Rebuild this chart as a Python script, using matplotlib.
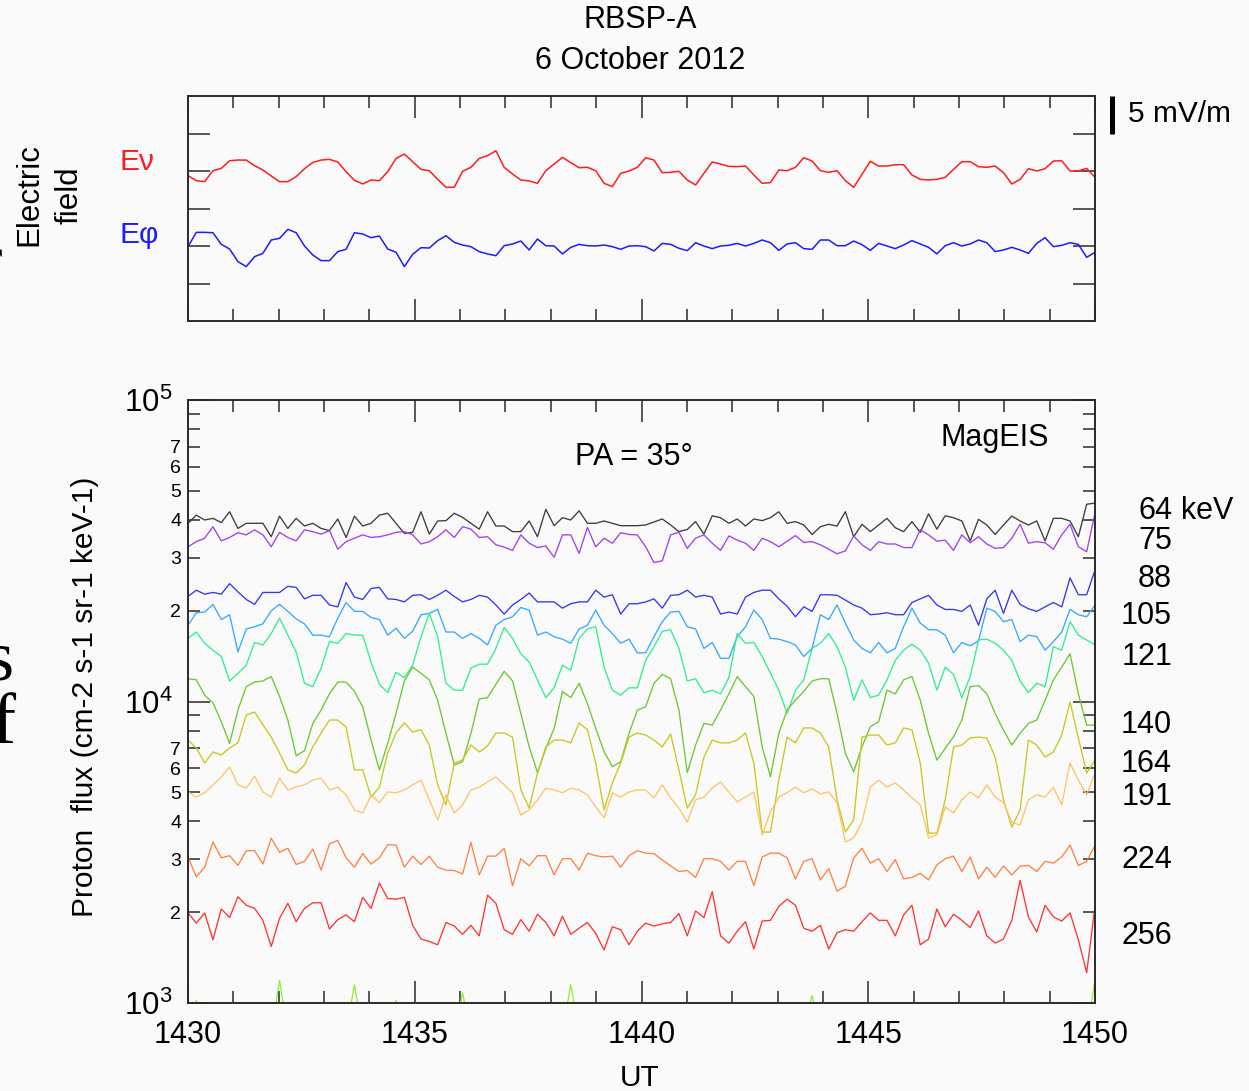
import numpy as np
import matplotlib.pyplot as plt
from matplotlib.ticker import MultipleLocator, LogLocator, FuncFormatter, FixedLocator

plt.rcParams['font.family'] = ['Liberation Sans', 'DejaVu Sans']
plt.rcParams['mathtext.fontset'] = 'custom'
plt.rcParams['mathtext.rm'] = 'Liberation Sans'
plt.rcParams['mathtext.it'] = 'Liberation Sans:italic'
plt.rcParams['mathtext.bf'] = 'Liberation Sans:bold'

W, H = 1249, 1091
BG = '#fafafa'

# electric field components (mV/m, deviation from each trace's baseline)
e_nu = [-0.62, -1.29, -1.42, 0.04, 0.35, 1.37, 1.46, 1.46, 0.71, 0.13,
        -0.66, -1.42, -1.42, -0.75, 0.31, 1.15, 1.46, 1.55, 1.20, -0.09,
        -1.24, -1.73, -1.20, -1.29, -0.09, 1.68, 2.26, 1.24, 0.22, 0.04,
        -1.11, -2.17, -2.17, -0.04, 0.49, 1.68, 2.04, 2.70, 0.49, -0.40,
        -1.20, -1.33, -1.64, 0.04, 0.93, 1.82, 1.11, 0.44, 0.49, 0.04,
        -1.64, -2.08, -0.31, 0.00, 0.49, 1.77, 1.46, -0.22, -0.18, -0.04,
        -1.20, -1.86, -0.31, 1.20, 0.93, 0.62, 0.58, 0.66, -0.53, -1.64,
        -1.55, 0.13, 0.04, 0.49, 1.77, 1.33, 0.04, -0.18, 0.04, -1.29,
        -2.17, -0.44, 1.29, 0.66, 0.66, 0.84, 0.84, -0.53, -1.11, -1.20,
        -1.11, -0.84, 0.22, 1.24, 1.24, 0.58, 0.49, 0.66, -0.22, -1.73,
        -1.11, 0.31, 0.00, 0.31, 1.33, 1.37, 0.00, 0.00, 0.35, -0.84]
e_phi = [-0.09, 1.82, 1.82, 1.77, 0.22, -0.40, -2.08, -2.75, -1.42, -0.98,
         0.80, 1.02, 2.22, 1.77, 0.00, -1.20, -1.95, -1.95, -0.75, -0.44,
         1.77, 1.60, 1.11, 1.33, -0.40, -0.84, -2.75, -1.11, -0.22, -0.27,
         0.71, 1.37, 0.49, 0.13, -0.09, -0.75, -1.06, -1.29, 0.04, 0.27,
         0.66, -0.53, 0.93, 0.04, 0.00, -1.06, -0.18, 0.22, 0.04, 0.00,
         0.13, -0.09, -0.44, 0.00, 0.04, -0.09, -0.66, 0.35, 0.22, -0.31,
         -0.62, 0.44, 0.00, -0.35, 0.00, 0.09, 0.35, 0.00, 0.35, 0.80,
         0.44, -0.58, 0.27, 0.44, -0.35, -0.44, 0.80, 0.80, 0.04, 0.04,
         0.66, 0.18, -0.58, 0.35, 0.00, -0.35, 0.13, 0.71, 0.27, -0.18,
         -1.06, 0.04, 0.44, 0.00, 0.27, 0.80, 0.44, -0.75, -0.53, -0.18,
         -0.53, -0.98, 0.35, 1.11, -0.09, 0.09, 0.44, 0.22, -1.51, -0.84]

# proton flux per energy channel, units of 1e3 cm-2 s-1 sr-1 keV-1
flux_64 = [39.0, 41.5, 40.0, 40.5, 39.2, 42.6, 37.5, 39.0, 39.0, 39.0,
           35.2, 41.2, 37.5, 40.5, 38.2, 39.0, 37.5, 36.9, 40.3, 35.0,
           41.2, 38.2, 39.0, 41.5, 42.1, 39.0, 36.1, 36.4, 42.6, 35.9,
           39.7, 39.8, 42.1, 40.8, 39.0, 37.3, 42.6, 38.2, 38.2, 36.6,
           36.6, 39.7, 35.2, 43.4, 38.3, 40.7, 40.0, 42.9, 39.0, 39.0,
           39.7, 39.0, 38.3, 38.3, 38.3, 38.5, 39.4, 40.3, 38.5, 36.6,
           37.2, 39.5, 35.9, 41.3, 40.7, 39.0, 40.3, 38.2, 40.3, 39.8,
           40.7, 42.6, 39.0, 39.5, 38.5, 35.8, 38.0, 38.7, 38.2, 42.6,
           35.2, 38.7, 36.6, 38.5, 40.5, 37.7, 36.6, 39.5, 36.4, 41.9,
           37.3, 41.3, 40.7, 39.7, 34.1, 40.2, 38.5, 35.8, 38.5, 41.2,
           39.7, 38.5, 39.7, 34.1, 40.5, 40.5, 39.7, 35.2, 45.1, 45.5]
flux_75 = [32.6, 33.9, 34.8, 38.0, 34.1, 35.0, 36.3, 35.7, 37.1, 35.7,
           32.6, 36.4, 35.0, 34.1, 37.1, 36.6, 35.9, 36.9, 32.0, 33.9,
           34.8, 35.7, 35.0, 35.2, 35.7, 36.4, 36.6, 35.7, 33.3, 33.9,
           35.2, 37.1, 35.0, 38.0, 37.3, 35.0, 35.2, 33.1, 32.5, 31.7,
           35.7, 33.5, 32.4, 32.8, 30.1, 35.7, 35.7, 31.0, 37.8, 32.6,
           34.8, 33.5, 36.3, 35.8, 35.7, 32.6, 28.9, 29.3, 35.7, 36.4,
           32.2, 34.8, 35.7, 33.5, 31.7, 35.4, 34.3, 33.5, 31.7, 34.8,
           33.9, 32.6, 34.0, 35.5, 33.7, 33.9, 33.1, 32.0, 30.9, 31.6,
           35.4, 33.1, 31.7, 33.9, 33.3, 33.3, 32.4, 32.4, 37.1, 35.7,
           34.0, 34.3, 31.7, 35.7, 33.6, 35.2, 33.3, 32.2, 32.4, 34.8,
           38.7, 33.5, 33.9, 33.6, 32.0, 35.7, 38.7, 32.6, 31.4, 42.1]
flux_88 = [22.3, 23.4, 22.7, 23.0, 22.7, 24.6, 23.1, 21.8, 21.0, 23.0,
           23.0, 23.0, 24.1, 23.9, 21.9, 22.5, 22.5, 20.9, 20.6, 24.8,
           22.2, 21.8, 23.7, 23.9, 21.9, 21.8, 21.4, 22.5, 22.6, 21.8,
           22.5, 23.4, 22.3, 21.4, 21.8, 22.5, 22.2, 20.9, 19.5, 20.9,
           21.8, 22.9, 21.4, 21.4, 21.4, 20.4, 21.1, 21.4, 21.4, 23.4,
           22.2, 22.6, 19.5, 21.1, 21.1, 21.4, 21.9, 20.4, 22.5, 22.6,
           23.4, 22.2, 22.5, 22.2, 19.5, 19.8, 19.5, 22.2, 23.0, 23.4,
           23.4, 21.9, 20.7, 19.1, 20.6, 19.9, 22.6, 22.6, 22.5, 21.7,
           20.9, 20.4, 19.4, 19.5, 19.7, 19.4, 19.4, 21.3, 21.9, 22.5,
           20.9, 20.2, 20.2, 19.9, 20.9, 17.9, 21.9, 23.4, 19.6, 23.4,
           21.0, 20.3, 19.9, 20.6, 21.3, 20.6, 25.7, 22.6, 22.6, 27.3]
flux_105 = [17.9, 19.7, 19.8, 21.0, 18.7, 19.4, 14.6, 17.4, 17.7, 18.1,
            20.0, 21.0, 19.9, 18.8, 18.1, 16.6, 16.6, 16.4, 18.9, 21.3,
            19.9, 19.9, 19.0, 18.7, 16.6, 17.5, 16.2, 17.1, 19.4, 19.6,
            20.2, 17.0, 17.0, 16.2, 16.8, 16.2, 15.4, 17.9, 18.7, 19.1,
            20.5, 20.1, 16.6, 17.0, 16.4, 16.1, 15.6, 17.4, 17.9, 20.1,
            17.9, 16.8, 15.6, 16.1, 14.5, 14.5, 16.4, 18.4, 19.8, 19.9,
            17.7, 17.4, 15.0, 15.7, 13.9, 13.9, 16.4, 17.7, 20.1, 18.7,
            16.2, 16.1, 15.8, 15.4, 14.1, 15.0, 19.4, 18.7, 20.9, 18.2,
            16.0, 15.0, 14.5, 15.7, 14.5, 15.0, 17.7, 20.4, 18.2, 17.3,
            17.3, 16.6, 14.5, 15.7, 15.3, 15.9, 20.4, 19.9, 18.4, 18.7,
            15.8, 16.6, 16.4, 14.8, 15.8, 17.0, 20.2, 19.4, 19.1, 20.9]
flux_121 = [16.2, 17.0, 15.6, 14.8, 14.1, 11.7, 12.4, 13.2, 15.7, 15.4,
            16.8, 18.9, 16.6, 14.6, 11.5, 11.2, 12.9, 15.8, 15.6, 16.8,
            16.6, 16.6, 13.5, 11.4, 10.7, 12.5, 12.0, 13.2, 16.4, 19.6,
            16.4, 11.5, 10.9, 10.9, 12.9, 13.3, 13.3, 15.0, 17.6, 16.2,
            14.4, 13.5, 11.8, 10.3, 11.1, 13.2, 12.7, 16.2, 17.4, 17.7,
            13.0, 10.9, 10.5, 11.1, 11.1, 13.7, 15.2, 17.1, 17.3, 15.0,
            11.7, 11.9, 10.7, 10.9, 10.6, 12.0, 16.8, 15.6, 15.7, 14.1,
            12.4, 10.9, 9.13, 10.9, 11.8, 15.0, 15.6, 16.8, 15.2, 13.0,
            10.1, 11.8, 10.3, 10.5, 11.8, 13.7, 14.8, 15.5, 14.8, 13.4,
            10.9, 13.0, 12.3, 10.3, 12.1, 16.0, 16.1, 15.6, 14.8, 13.7,
            11.7, 10.7, 11.5, 11.2, 15.2, 14.8, 18.4, 16.6, 16.0, 15.4]
flux_140 = [11.9, 11.8, 10.5, 9.9, 8.57, 7.26, 9.37, 11.2, 11.6, 11.7,
            12.1, 10.4, 8.68, 6.6, 6.87, 8.46, 9.37, 10.6, 11.6, 11.6,
            10.8, 9.6, 7.45, 5.93, 7.26, 9.13, 11.7, 13.0, 12.4, 11.8,
            10.1, 7.84, 6.16, 6.31, 7.84, 10.2, 10.3, 11.4, 12.6, 11.7,
            9.13, 7.08, 5.81, 6.99, 8.14, 10.8, 10.3, 11.5, 9.85, 8.14,
            6.82, 6.08, 6.31, 7.84, 9.37, 9.6, 11.5, 12.3, 11.9, 9.37,
            5.81, 7.17, 8.46, 8.35, 9.37, 10.6, 12.1, 11.2, 10.4, 7.08,
            5.63, 7.84, 9.37, 10.1, 10.8, 11.7, 11.9, 11.9, 9.13, 6.73,
            5.85, 7.08, 8.25, 8.57, 10.9, 10.6, 11.8, 12.1, 10.1, 7.84,
            6.39, 6.99, 7.64, 8.68, 11.2, 11.3, 10.6, 9.13, 8.04, 7.17,
            7.84, 8.46, 8.68, 10.1, 11.8, 13.0, 14.4, 10.6, 8.35, 8.35]
flux_164 = [7.45, 7.01, 6.25, 6.80, 6.65, 7.01, 7.29, 9.02, 9.23, 8.37,
            7.62, 6.75, 5.93, 5.79, 6.16, 7.07, 7.86, 8.68, 8.68, 8.23,
            5.93, 5.93, 4.82, 5.20, 6.75, 7.86, 8.49, 7.92, 8.06, 7.17,
            5.29, 4.54, 6.25, 6.40, 7.17, 6.80, 7.12, 7.86, 7.86, 7.62,
            5.09, 4.43, 5.79, 7.07, 7.45, 7.45, 7.29, 8.49, 8.06, 6.25,
            4.37, 5.37, 6.25, 7.62, 7.86, 7.74, 7.45, 7.07, 7.80, 5.93,
            4.43, 4.90, 6.54, 7.45, 7.29, 7.29, 7.45, 7.86, 6.25, 3.69,
            3.69, 5.49, 7.62, 7.29, 8.17, 8.17, 7.86, 7.07, 4.72, 3.69,
            4.05, 7.62, 7.74, 7.74, 7.17, 7.29, 8.17, 8.06, 6.25, 3.66,
            3.66, 4.72, 7.07, 7.17, 7.57, 7.62, 7.57, 6.54, 4.72, 3.83,
            4.37, 7.45, 7.17, 6.54, 6.80, 7.74, 9.96, 7.57, 5.79, 6.40]
flux_191 = [5.01, 4.82, 4.98, 5.29, 5.62, 6.07, 5.29, 5.16, 5.66, 5.01,
            4.82, 5.57, 5.09, 5.20, 5.29, 5.49, 5.57, 5.09, 5.20, 4.90,
            4.37, 4.27, 4.90, 4.62, 5.01, 4.98, 5.09, 5.29, 5.49, 4.72,
            4.05, 4.90, 4.27, 4.54, 5.09, 5.20, 5.41, 5.62, 5.29, 4.98,
            4.20, 4.37, 4.72, 5.16, 5.09, 4.98, 5.16, 5.09, 4.90, 4.47,
            4.11, 4.98, 4.82, 5.01, 5.09, 5.09, 4.79, 5.29, 4.79, 4.43,
            3.98, 4.72, 4.82, 5.16, 5.41, 5.01, 4.65, 4.82, 5.01, 3.61,
            4.30, 4.82, 4.98, 5.20, 4.98, 5.13, 4.94, 5.01, 4.62, 3.42,
            3.53, 3.98, 5.20, 5.49, 5.20, 5.37, 5.09, 4.79, 4.54, 3.53,
            3.61, 4.47, 4.27, 4.72, 5.01, 4.79, 5.29, 4.82, 4.62, 3.98,
            3.89, 4.72, 4.90, 4.82, 5.20, 4.54, 6.25, 5.49, 4.90, 5.79]
flux_224 = [3.05, 2.62, 2.82, 3.42, 3.03, 3.08, 2.86, 3.20, 3.20, 2.89,
            3.52, 3.16, 3.26, 2.88, 2.95, 3.24, 2.76, 3.37, 3.46, 3.03,
            2.82, 3.13, 2.89, 3.03, 3.35, 3.34, 2.82, 3.07, 2.88, 3.07,
            2.82, 2.76, 2.75, 2.68, 3.41, 2.66, 3.07, 3.07, 3.26, 2.45,
            3.01, 2.85, 3.08, 3.08, 2.66, 3.01, 3.01, 2.76, 3.14, 3.08,
            3.05, 3.07, 2.82, 3.08, 3.20, 3.14, 3.13, 2.98, 2.85, 2.73,
            2.75, 2.61, 3.01, 3.01, 2.95, 2.76, 2.95, 2.95, 2.45, 3.05,
            3.14, 3.14, 3.03, 2.58, 2.95, 3.01, 2.56, 2.79, 2.35, 2.44,
            3.03, 3.26, 2.91, 3.01, 2.73, 2.99, 2.58, 2.61, 2.69, 2.56,
            2.87, 3.01, 3.07, 2.73, 3.05, 2.58, 2.82, 2.61, 2.85, 2.66,
            2.84, 2.86, 2.73, 2.95, 2.91, 3.05, 3.34, 2.86, 2.95, 3.33]
flux_256 = [1.99, 1.84, 1.99, 1.62, 2.05, 1.92, 2.25, 2.11, 2.06, 1.88,
            1.54, 1.91, 2.14, 1.86, 2.06, 2.15, 2.15, 1.76, 1.89, 1.96,
            1.86, 2.24, 2.06, 2.50, 2.22, 2.21, 2.24, 1.81, 1.63, 1.60,
            1.56, 1.85, 1.80, 1.69, 1.81, 1.67, 2.28, 2.14, 1.75, 1.69,
            1.89, 1.73, 1.97, 1.85, 1.67, 1.94, 1.69, 1.77, 1.85, 1.70,
            1.50, 1.79, 1.75, 1.56, 1.73, 1.84, 1.80, 1.83, 1.85, 1.98,
            1.67, 2.02, 1.92, 2.34, 1.67, 1.58, 1.73, 1.86, 1.51, 1.87,
            1.88, 2.09, 2.21, 2.11, 1.77, 1.73, 1.81, 1.51, 1.71, 1.75,
            1.73, 1.86, 1.99, 1.88, 1.88, 1.67, 1.96, 2.11, 1.56, 1.63,
            2.05, 1.79, 1.97, 1.88, 1.78, 2.02, 1.67, 1.58, 1.63, 1.88,
            2.55, 1.93, 1.72, 2.11, 1.93, 1.87, 1.99, 1.62, 1.26, 2.09]
# noisy low channel, mostly below the plotted range
flux_low = [0.80, 1.02, 0.80, 0.80, 0.80, 0.80, 0.80, 0.80, 0.80, 0.80,
            0.80, 1.19, 0.80, 0.80, 0.80, 0.80, 0.80, 0.80, 0.80, 0.80,
            1.15, 0.80, 0.80, 0.80, 0.80, 1.02, 0.80, 0.80, 0.80, 0.80,
            0.80, 0.80, 0.80, 1.08, 0.80, 0.80, 0.80, 0.80, 0.80, 0.80,
            0.80, 0.80, 0.80, 1.01, 0.80, 0.80, 1.15, 0.80, 0.80, 0.80,
            0.80, 0.80, 0.80, 0.80, 0.80, 0.80, 0.80, 0.80, 0.80, 0.80,
            0.80, 0.80, 0.80, 0.80, 0.80, 0.80, 0.80, 0.80, 0.80, 0.80,
            0.80, 0.80, 0.80, 0.80, 0.80, 1.06, 0.80, 0.80, 0.80, 0.80,
            0.80, 0.80, 0.80, 0.80, 0.80, 0.80, 0.80, 0.80, 0.80, 0.80,
            0.80, 0.80, 0.80, 0.80, 0.80, 0.80, 0.80, 0.80, 0.80, 0.80,
            0.80, 0.80, 0.80, 0.80, 0.80, 0.80, 0.80, 0.80, 0.80, 1.19]

energies = ['64', '75', '88', '105', '121', '140', '164', '191', '224', '256']
channels = [flux_64, flux_75, flux_88, flux_105, flux_121,
            flux_140, flux_164, flux_191, flux_224, flux_256]
colors = ['#3c3c3c', '#a040ee', '#3535f0', '#35aaff', '#2ef08c',
          '#6cc832', '#c8c81e', '#ffc466', '#ff8244', '#ff3434']
label_y = [511, 541, 579, 616, 657, 725, 764, 797, 860, 936]


def times(v):
    return np.linspace(1430, 1450, len(v))


def fx(x):
    return x / W


def fy(y):
    return 1 - y / H


fig = plt.figure(figsize=(W / 100, H / 100), dpi=100, facecolor=BG)
ax_e = fig.add_axes([fx(188), fy(321), 907 / W, 225 / H])
ax_p = fig.add_axes([fx(188), fy(1003), 907 / W, 603 / H])

for ax in (ax_e, ax_p):
    ax.set_facecolor(BG)
    for s in ax.spines.values():
        s.set_linewidth(1.4)
        s.set_color('#2a2a2a')
    ax.set_xlim(1430, 1450)
    ax.xaxis.set_major_locator(MultipleLocator(5))
    ax.xaxis.set_minor_locator(MultipleLocator(1))
    ax.tick_params(which='both', direction='in', top=True, right=True,
                   width=1.1, color='#2a2a2a')
    ax.tick_params(which='major', length=16)
    ax.tick_params(which='minor', length=8.5)

# electric field panel
ax_e.plot(times(e_nu), np.array(e_nu) + 5, color='#ff1c1c', lw=1.1)
ax_e.plot(times(e_phi), np.array(e_phi) - 5, color='#1c1cff', lw=1.1)
ax_e.set_ylim(-15, 15)
ax_e.yaxis.set_major_locator(FixedLocator([-10, -5, 0, 5, 10]))
ax_e.tick_params(labelbottom=False, labelleft=False)
ax_e.plot([1450.37, 1450.37], [10, 15], color='k', lw=3.6,
          solid_capstyle='butt', clip_on=False)
ax_e.text(1450.72, 12.6, '5 mV/m', fontsize=21.5, va='center', ha='left')

fig.text(fx(119), fy(170), 'E\u03bd', color='#ff1c1c', fontsize=21.5, va='baseline')
fig.text(fx(119), fy(243), 'E\u03c6', color='#1c1cff', fontsize=21.5, va='baseline')
fig.text(fx(29), fy(194), 'Electric', rotation=90, fontsize=22.5,
         ha='center', va='center')
fig.text(fx(69), fy(195), 'field', rotation=90, fontsize=22.5,
         ha='center', va='center')

# proton flux panel
ax_p.plot(times(flux_low), np.array(flux_low) * 1e3, color='#8ef032', lw=0.9)
for vals, c in zip(channels, colors):
    ax_p.plot(times(vals), np.array(vals) * 1e3, color=c, lw=0.95)
ax_p.set_yscale('log')
ax_p.set_ylim(1e3, 1e5)
ax_p.yaxis.set_major_locator(LogLocator(base=10, numticks=5))
ax_p.yaxis.set_minor_locator(LogLocator(base=10, subs=range(2, 10), numticks=5))


def major_fmt(v, _):
    return r'$\mathregular{10^{%d}}$' % round(np.log10(v))


def minor_fmt(v, _):
    m = round(v / 10 ** np.floor(np.log10(v) + 1e-9))
    return str(m) if 2 <= m <= 7 else ''


ax_p.yaxis.set_major_formatter(FuncFormatter(major_fmt))
ax_p.yaxis.set_minor_formatter(FuncFormatter(minor_fmt))
ax_p.tick_params(axis='y', which='major', labelsize=22.5, pad=11)
ax_p.tick_params(axis='y', which='minor', labelsize=14, pad=5)
ax_p.tick_params(axis='x', which='major', labelsize=22, pad=12)

ax_p.text(0.492, 0.905, 'PA = 35\u00b0', transform=ax_p.transAxes,
          fontsize=22, ha='center', va='center')
ax_p.text(0.889, 0.937, 'MagEIS', transform=ax_p.transAxes,
          fontsize=22, ha='center', va='center')

for e, y in zip(energies, label_y):
    fig.text(fx(1172), fy(y), e, fontsize=22, ha='right', va='center')
fig.text(fx(1181), fy(label_y[0]), 'keV', fontsize=22, ha='left', va='center')

fig.text(fx(85), fy(697), 'Proton  flux (cm-2 s-1 sr-1 keV-1)', rotation=90,
         fontsize=21.5, ha='center', va='center')
fig.text(fx(640), fy(1078), 'UT', fontsize=21.5, ha='center', va='center')

fig.text(fx(640), fy(20), 'RBSP-A', fontsize=22, ha='center', va='center')
fig.text(fx(640), fy(61), '6 October 2012', fontsize=22, ha='center', va='center')

# letters of the neighbouring slide text, cut by the left edge
fig.text(fx(-16), fy(276), 'r', fontsize=40, family='Liberation Serif',
         ha='left', va='baseline')
fig.text(fx(-14), fy(680), 's', fontsize=52, family='Liberation Serif',
         ha='left', va='baseline')
fig.text(fx(-8), fy(743), 'f', fontsize=52, family='Liberation Serif',
         ha='left', va='baseline')

fig.savefig('out.png', dpi=100, facecolor=BG)
